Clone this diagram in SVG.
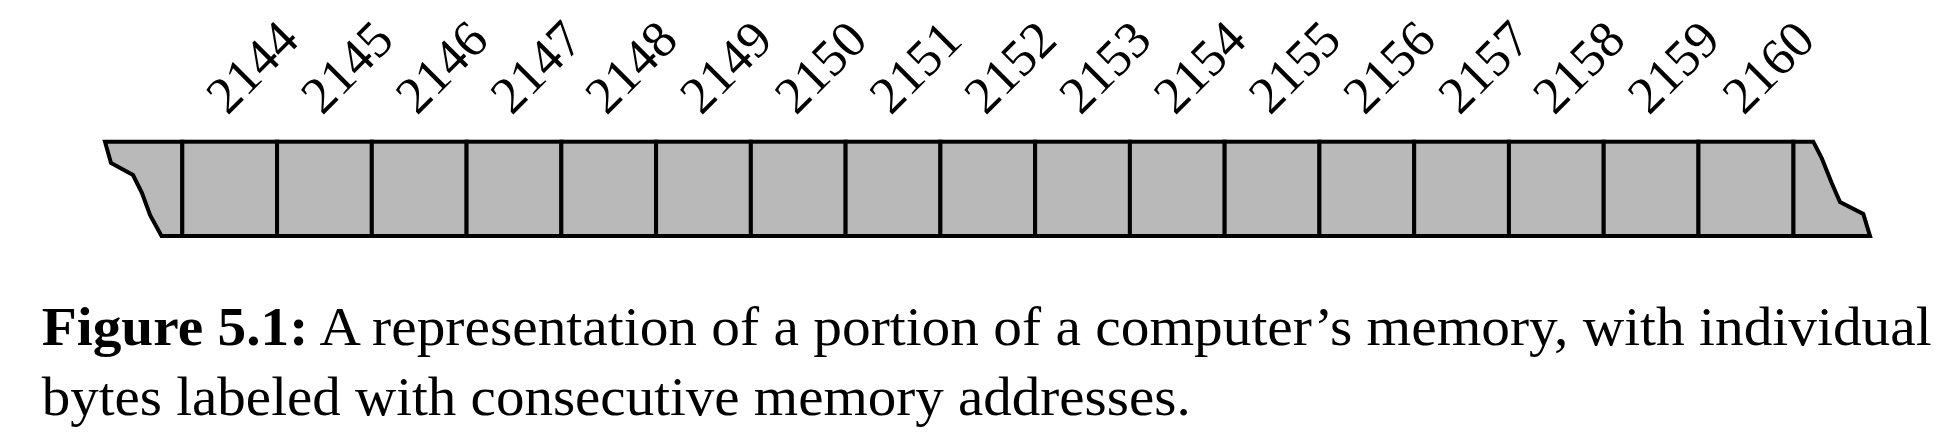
<svg xmlns="http://www.w3.org/2000/svg" width="1944" height="435" viewBox="0 0 1944 435">
<style>
.cell{fill:#b9b9b9;stroke:#000;stroke-width:4;stroke-linejoin:miter}
.lbl{font-family:"Liberation Serif","Times New Roman",serif;font-size:52px;fill:#000}
.cap{font-family:"Liberation Serif","Times New Roman",serif;font-size:55px;fill:#000}
</style>
<rect width="1944" height="435" fill="#fff"/>
<g id="memory">
<path id="left-end" class="cell" d="M105,141.7 L111,163 L133,175 L142,193 L150,215 L161.5,236 L182.3,236 L182.3,141.7 Z"/>
<path id="right-end" class="cell" d="M1793.3,141.7 L1813.3,141.7 L1821.7,158 L1831.7,183 L1840,202 L1863.3,214 L1870,236 L1793.3,236 Z"/>
<g id="cells">
<rect class="cell" x="182.3" y="141.7" width="94.76" height="94.3"/>
<rect class="cell" x="277.06" y="141.7" width="94.76" height="94.3"/>
<rect class="cell" x="371.82" y="141.7" width="94.76" height="94.3"/>
<rect class="cell" x="466.58" y="141.7" width="94.76" height="94.3"/>
<rect class="cell" x="561.34" y="141.7" width="94.76" height="94.3"/>
<rect class="cell" x="656.1" y="141.7" width="94.76" height="94.3"/>
<rect class="cell" x="750.86" y="141.7" width="94.76" height="94.3"/>
<rect class="cell" x="845.62" y="141.7" width="94.76" height="94.3"/>
<rect class="cell" x="940.38" y="141.7" width="94.76" height="94.3"/>
<rect class="cell" x="1035.14" y="141.7" width="94.76" height="94.3"/>
<rect class="cell" x="1129.9" y="141.7" width="94.76" height="94.3"/>
<rect class="cell" x="1224.66" y="141.7" width="94.76" height="94.3"/>
<rect class="cell" x="1319.42" y="141.7" width="94.76" height="94.3"/>
<rect class="cell" x="1414.18" y="141.7" width="94.76" height="94.3"/>
<rect class="cell" x="1508.94" y="141.7" width="94.76" height="94.3"/>
<rect class="cell" x="1603.7" y="141.7" width="94.76" height="94.3"/>
<rect class="cell" x="1698.46" y="141.7" width="94.76" height="94.3"/>
</g>
</g>
<g id="labels">
<text class="lbl" transform="translate(227.5,116) rotate(-45)">2144</text>
<text class="lbl" transform="translate(322.3,116) rotate(-45)">2145</text>
<text class="lbl" transform="translate(417,116) rotate(-45)">2146</text>
<text class="lbl" transform="translate(511.8,116) rotate(-45)">2147</text>
<text class="lbl" transform="translate(606.6,116) rotate(-45)">2148</text>
<text class="lbl" transform="translate(701.3,116) rotate(-45)">2149</text>
<text class="lbl" transform="translate(796.1,116) rotate(-45)">2150</text>
<text class="lbl" transform="translate(890.8,116) rotate(-45)">2151</text>
<text class="lbl" transform="translate(985.6,116) rotate(-45)">2152</text>
<text class="lbl" transform="translate(1080.4,116) rotate(-45)">2153</text>
<text class="lbl" transform="translate(1175.1,116) rotate(-45)">2154</text>
<text class="lbl" transform="translate(1269.9,116) rotate(-45)">2155</text>
<text class="lbl" transform="translate(1364.6,116) rotate(-45)">2156</text>
<text class="lbl" transform="translate(1459.4,116) rotate(-45)">2157</text>
<text class="lbl" transform="translate(1554.2,116) rotate(-45)">2158</text>
<text class="lbl" transform="translate(1648.9,116) rotate(-45)">2159</text>
<text class="lbl" transform="translate(1743.7,116) rotate(-45)">2160</text>
</g>
<g id="caption">
<text class="cap" x="41.7" y="345" textLength="1890" lengthAdjust="spacingAndGlyphs"><tspan font-weight="bold">Figure 5.1:</tspan> A representation of a portion of a computer’s memory, with individual</text>
<text class="cap" x="41.7" y="415" textLength="1149" lengthAdjust="spacingAndGlyphs">bytes labeled with consecutive memory addresses.</text>
</g>
</svg>
